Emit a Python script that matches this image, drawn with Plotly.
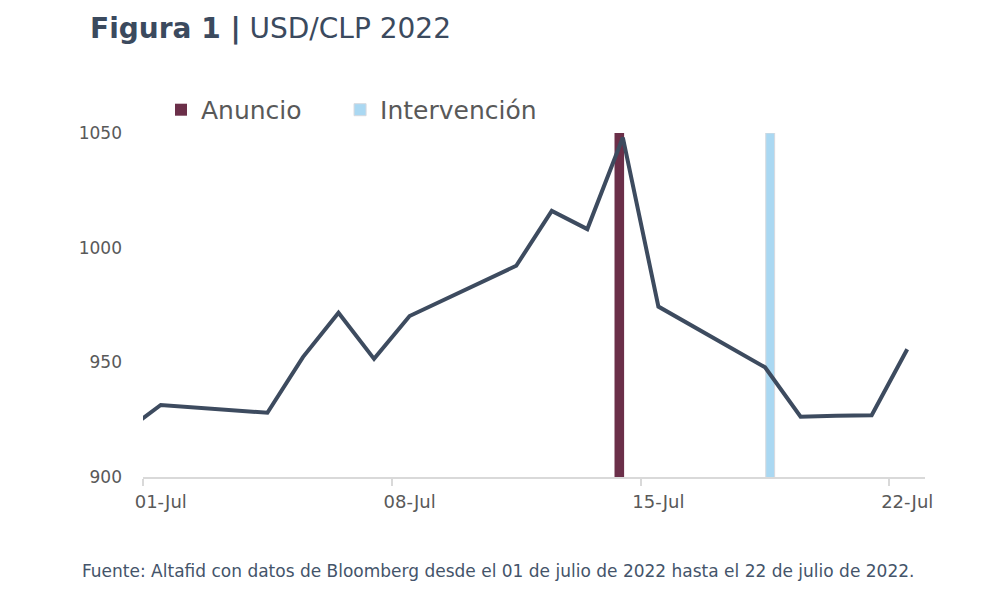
import plotly.graph_objects as go

# Data
dates = ["2022-06-30", "2022-07-01", "2022-07-04", "2022-07-05", "2022-07-06", "2022-07-07",
         "2022-07-08", "2022-07-11", "2022-07-12", "2022-07-13", "2022-07-14", "2022-07-15",
         "2022-07-18", "2022-07-19", "2022-07-20", "2022-07-21", "2022-07-22"]
usdclp = [919.8, 931.4, 928.0, 952.3, 971.6, 951.5,
          970.2, 992.1, 1016.0, 1008.1, 1048.0, 974.3,
          947.8, 926.3, 926.7, 926.9, 955.7]

anuncio_date = ["2022-07-14"]
anuncio_val = [1050]
intervencion_date = ["2022-07-18"]
intervencion_val = [1050]

tick_dates = ["2022-07-01", "2022-07-08", "2022-07-15", "2022-07-22"]
tick_labels = ["01-Jul", "08-Jul", "15-Jul", "22-Jul"]
y_ticks = [900, 950, 1000, 1050]

DAY = 86400000
FONT = "DejaVu Sans"

fig = go.Figure()
fig.add_trace(go.Bar(x=anuncio_date, y=anuncio_val, name="Anuncio", legend="legend",
                     marker=dict(color="#6B2F49", line=dict(width=0)),
                     width=[0.27 * DAY], offset=[-0.235 * DAY]))
fig.add_trace(go.Bar(x=intervencion_date, y=intervencion_val, name="Intervención", legend="legend2",
                     marker=dict(color="#AAD8F2", line=dict(color="#D6D9DE", width=1)),
                     width=[0.25 * DAY], offset=[0.02 * DAY]))
fig.add_trace(go.Scatter(x=dates, y=usdclp, mode="lines", name="USD/CLP",
                         line=dict(color="#3D4B5F", width=4), showlegend=False))

legend_common = dict(orientation="h", xanchor="left", y=1.067, yanchor="middle",
                     font=dict(size=25, color="#595959", family=FONT),
                     bgcolor="rgba(0,0,0,0)")

fig.update_layout(
    width=997, height=593,
    margin=dict(l=143, r=72, t=133, b=116),
    plot_bgcolor="white", paper_bgcolor="white",
    barmode="overlay",
    font=dict(family=FONT, color="#595959"),
    showlegend=True,
    legend=dict(x=0.023, **legend_common),
    legend2=dict(x=0.252, **legend_common),
    xaxis=dict(type="date", range=["2022-06-30 12:00", "2022-07-22 12:00"],
               tickvals=tick_dates, ticktext=tick_labels,
               ticks="outside", ticklen=8, tickcolor="rgba(0,0,0,0)",
               tickfont=dict(size=18, color="#595959"),
               showline=True, linecolor="#D9D9D9", linewidth=1.5,
               showgrid=False, zeroline=False,
               minor=dict(ticks="outside", ticklen=7, tickcolor="#D9D9D9", tickwidth=1.5,
                          tick0="2022-06-30 12:00", dtick=7 * DAY, showgrid=False)),
    yaxis=dict(range=[900, 1050], tickvals=y_ticks, showgrid=False, zeroline=False,
               showline=False, ticks="", ticklabelstandoff=20,
               tickfont=dict(size=17, color="#595959")),
    annotations=[
        dict(xref="paper", yref="paper", x=-0.0703, y=1.305, xanchor="left", yanchor="middle",
             text="<b>Figura 1 |</b> USD/CLP 2022", showarrow=False,
             font=dict(size=28, color="#3B4A5E", family=FONT)),
        dict(xref="paper", yref="paper", x=-0.0806, y=-0.273, xanchor="left", yanchor="middle",
             text="Fuente: Altafid con datos de Bloomberg desde el 01 de julio de 2022 hasta el 22 de julio de 2022.",
             showarrow=False, font=dict(size=17, color="#44546A", family=FONT)),
    ],
)

fig.write_html("out.html")
